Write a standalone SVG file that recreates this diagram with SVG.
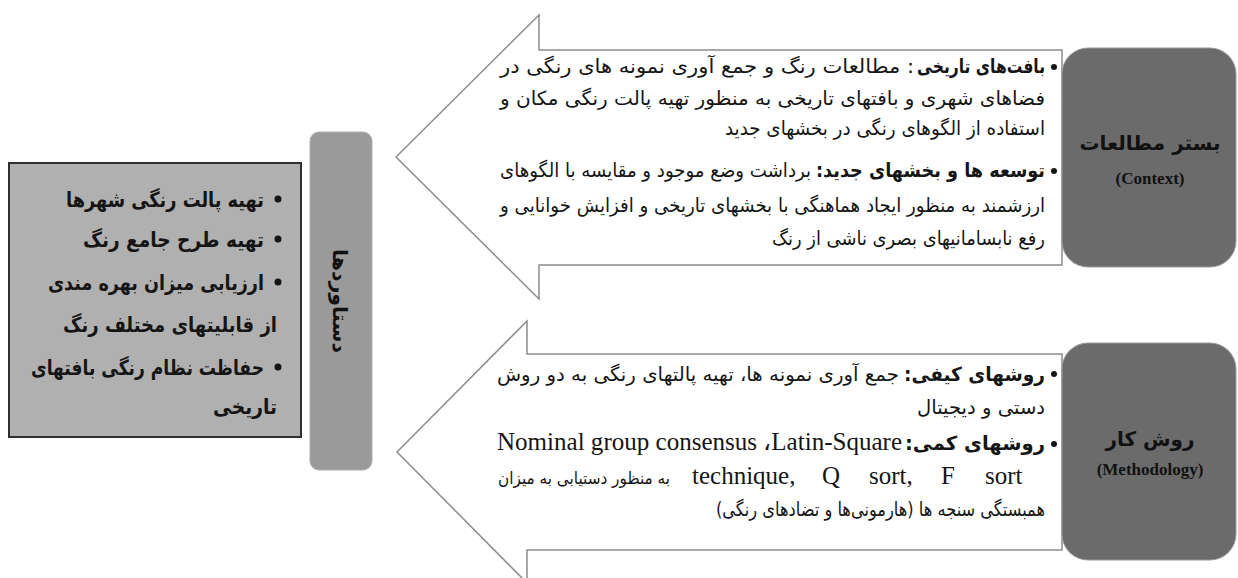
<svg xmlns="http://www.w3.org/2000/svg" width="1238" height="578" viewBox="0 0 1238 578">
<defs>
<style>
.fa{font-family:"DejaVu Sans",sans-serif;font-size:19.5px;fill:#151515;direction:rtl;unicode-bidi:embed;text-anchor:start}
.b{font-weight:bold}
.en{font-family:"Liberation Serif",serif;font-size:25px;fill:#151515}
.arrow{fill:#fff;stroke:#8c8c8c;stroke-width:1.5;stroke-linejoin:miter}
.dark{fill:#6b6b6b;stroke:#9a9a9a;stroke-width:1}
.lbl{font-family:"DejaVu Sans",sans-serif;font-weight:bold;font-size:20px;fill:#111;text-anchor:middle}
.lblen{font-family:"Liberation Serif",serif;font-weight:bold;font-size:17px;fill:#111;text-anchor:middle}
.lst{font-family:"DejaVu Sans",sans-serif;font-weight:bold;font-size:21px;fill:#151515;direction:rtl;unicode-bidi:embed;text-anchor:start}
.dot{fill:#151515}
</style>
</defs>
<rect width="1238" height="578" fill="#ffffff"/>

<g id="connectors">
<polygon class="arrow" points="396,157 539,15 539,50 1062,50 1062,265 539,265 539,299"/>
<polygon class="arrow" points="397,452 527,321 527,354 1062,354 1062,550 527,550 527,583"/>
</g>

<g id="context-details">
<circle class="dot" cx="1054" cy="67" r="3"/>
<text class="fa b" x="1045" y="73" textLength="128" lengthAdjust="spacingAndGlyphs">بافت‌های تاریخی</text>
<text class="fa" x="914" y="73" textLength="414" lengthAdjust="spacingAndGlyphs">: مطالعات رنگ و جمع آوری نمونه های رنگی در</text>
<text class="fa" x="1045" y="105" textLength="545" lengthAdjust="spacingAndGlyphs">فضاهای شهری و بافتهای تاریخی به منظور تهیه پالت رنگی مکان و</text>
<text class="fa" x="1045" y="135" textLength="320" lengthAdjust="spacingAndGlyphs">استفاده از الگوهای رنگی در بخشهای جدید</text>
<circle class="dot" cx="1054" cy="171" r="3"/>
<text class="fa b" x="1045" y="177" textLength="229" lengthAdjust="spacingAndGlyphs">توسعه ها و بخشهای جدید:</text>
<text class="fa" x="811" y="177" textLength="311" lengthAdjust="spacingAndGlyphs">برداشت وضع موجود و مقایسه با الگوهای</text>
<text class="fa" x="1045" y="212" textLength="545" lengthAdjust="spacingAndGlyphs">ارزشمند به منظور ایجاد هماهنگی با بخشهای تاریخی و افزایش خوانایی و</text>
<text class="fa" x="1045" y="245" textLength="273" lengthAdjust="spacingAndGlyphs">رفع نابسامانیهای بصری ناشی از رنگ</text>
</g>

<g id="methodology-details">
<circle class="dot" cx="1054" cy="374" r="3"/>
<text class="fa b" x="1045" y="381" textLength="141" lengthAdjust="spacingAndGlyphs">روشهای کیفی:</text>
<text class="fa" x="899" y="381" textLength="402" lengthAdjust="spacingAndGlyphs">جمع آوری نمونه ها، تهیه پالتهای رنگی به دو روش</text>
<text class="fa" x="1045" y="414" textLength="128" lengthAdjust="spacingAndGlyphs">دستی و دیجیتال</text>
<circle class="dot" cx="1054" cy="444" r="3"/>
<text class="fa b" x="1045" y="450" textLength="140" lengthAdjust="spacingAndGlyphs">روشهای کمی:</text>
<text class="en" x="497" y="450" textLength="405" lengthAdjust="spacingAndGlyphs">Nominal group consensus ،Latin-Square</text>
<text class="en" x="692" y="484"><tspan x="692">technique,</tspan><tspan x="822">Q</tspan><tspan x="869">sort,</tspan><tspan x="941">F</tspan><tspan x="985">sort</tspan></text>
<text x="670" y="484" text-anchor="end" font-family="DejaVu Sans, sans-serif" font-size="17" fill="#151515" textLength="172" lengthAdjust="spacingAndGlyphs">به منظور دستیابی به میزان</text>
<text class="fa" x="1045" y="516" textLength="329" lengthAdjust="spacingAndGlyphs">همبستگی سنجه ها (هارمونی‌ها و تضادهای رنگی)</text>
</g>

<g id="context-node">
<rect class="dark" x="1062" y="48" width="174" height="219" rx="26" ry="26"/>
<text class="lbl" x="1150" y="150">بستر مطالعات</text>
<text class="lblen" x="1150" y="184">(Context)</text>
</g>

<g id="methodology-node">
<rect class="dark" x="1062" y="343" width="174" height="217" rx="26" ry="26"/>
<text class="lbl" x="1150" y="446">روش کار</text>
<text class="lblen" x="1150" y="475">(Methodology)</text>
</g>

<g id="achievements-node">
<rect x="310" y="132" width="62" height="338" rx="9" ry="9" fill="#9a9a9a" stroke="#b0b0b0" stroke-width="1"/>
<text class="lbl" font-size="21" transform="translate(340,301) rotate(90)" dominant-baseline="central" textLength="104" lengthAdjust="spacingAndGlyphs">دستاوردها</text>
</g>

<g id="achievements-list">
<rect x="9" y="163" width="292" height="274" fill="#b0b0b0" stroke="#2e2e2e" stroke-width="2"/>
<circle class="dot" cx="278" cy="199" r="3.5"/>
<text class="lst" x="264" y="207" textLength="198" lengthAdjust="spacingAndGlyphs">تهیه پالت رنگی شهرها</text>
<circle class="dot" cx="278" cy="239" r="3.5"/>
<text class="lst" x="264" y="247" textLength="181" lengthAdjust="spacingAndGlyphs">تهیه طرح جامع رنگ</text>
<circle class="dot" cx="278" cy="282" r="3.5"/>
<text class="lst" x="264" y="290" textLength="216" lengthAdjust="spacingAndGlyphs">ارزیابی میزان بهره مندی</text>
<text class="lst" x="277" y="332" textLength="214" lengthAdjust="spacingAndGlyphs">از قابلیتهای مختلف رنگ</text>
<circle class="dot" cx="278" cy="367" r="3.5"/>
<text class="lst" x="264" y="375" textLength="233" lengthAdjust="spacingAndGlyphs">حفاظت نظام رنگی بافتهای</text>
<text class="lst" x="277" y="414" textLength="64" lengthAdjust="spacingAndGlyphs">تاریخی</text>
</g>
</svg>
